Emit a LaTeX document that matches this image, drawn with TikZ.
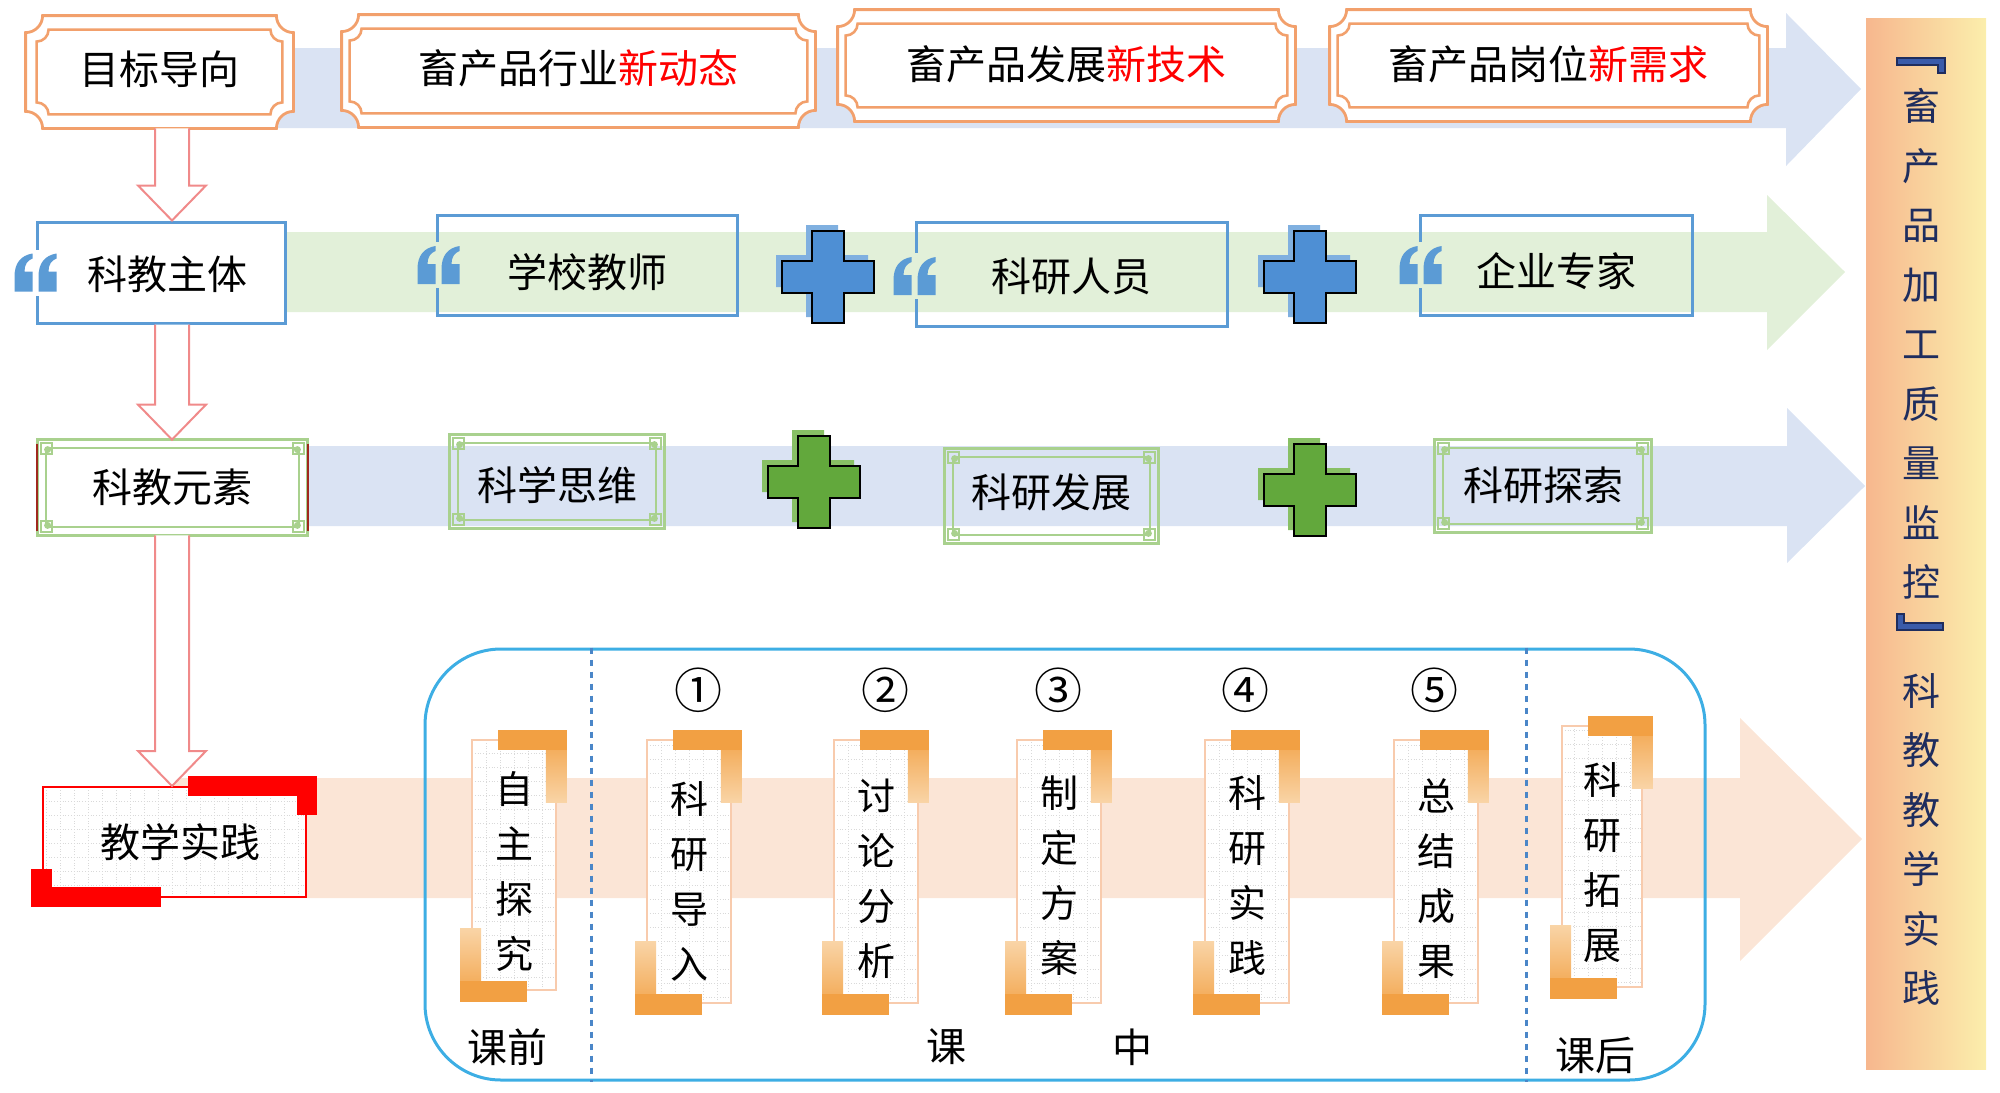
\documentclass[tikz,border=0pt]{standalone}
\usepackage{fontspec}
\setmainfont{Noto Sans CJK SC}
\usetikzlibrary{calc}
\definecolor{bandblue}{HTML}{DAE3F3}
\definecolor{bandgreen}{HTML}{E2F0D9}
\definecolor{bandpeach}{HTML}{FBE5D6}
\definecolor{orline}{HTML}{F2A06C}
\definecolor{cblue}{HTML}{5B9BD5}
\definecolor{gline}{HTML}{A9D18E}
\definecolor{cpink}{HTML}{F08A8A}
\definecolor{ccyan}{HTML}{3DAEE4}
\definecolor{cdash}{HTML}{4A86C8}
\definecolor{cpeach}{HTML}{F8CBAD}
\definecolor{Lor}{HTML}{F2A043}
\definecolor{Llt}{HTML}{F9D4A6}
\definecolor{barL}{HTML}{F7B78E}
\definecolor{barR}{HTML}{FBEEAC}
\definecolor{navy}{HTML}{1F2D5E}
\definecolor{brfill}{HTML}{3A5BAA}
\definecolor{plusblue}{HTML}{4E8FD4}
\definecolor{plusblueS}{HTML}{80B0E0}
\definecolor{plusgreen}{HTML}{62A83C}
\definecolor{plusgreenS}{HTML}{88C065}
\definecolor{gridc}{HTML}{D9D9D9}
\definecolor{redbar}{HTML}{FF0000}
\definecolor{darkr}{HTML}{A0281E}
\pgfdeclarelayer{back}
\pgfdeclarelayer{mid}
\pgfsetlayers{back,mid,main}
% move text down by #1 without changing its box
\newcommand\dn[2]{\raisebox{-#1}[\height][\depth]{#2}}
% concave-corner frame: [style]{node}{dx}{dy}{r}
\newcommand\cvframe[5][]{%
  \draw[#1] ([shift={(#3+#5,-#4)}]#2.north west) -- ([shift={(-#3-#5,-#4)}]#2.north east)
    arc[start angle=180,end angle=270,radius=#5] -- ([shift={(-#3,#4+#5)}]#2.south east)
    arc[start angle=90,end angle=180,radius=#5] -- ([shift={(#3+#5,#4)}]#2.south west)
    arc[start angle=0,end angle=90,radius=#5] -- ([shift={(#3,-#4-#5)}]#2.north west)
    arc[start angle=270,end angle=360,radius=#5] -- cycle;}
% green ornamental frame: {node}{fill}
\newcommand\gframe[2]{%
  \draw[gline, line width=1.6pt, fill=#2] (#1.north west) rectangle (#1.south east);
  \draw[gline, line width=1pt] ([shift={(8,-8)}]#1.north west) rectangle ([shift={(-8,8)}]#1.south east);
  \draw[gline, line width=1pt] ([shift={(3,-3)}]#1.north west) rectangle ([shift={(14,-14)}]#1.north west);
  \draw[gline, line width=1pt] ([shift={(-3,-3)}]#1.north east) rectangle ([shift={(-14,-14)}]#1.north east);
  \draw[gline, line width=1pt] ([shift={(3,3)}]#1.south west) rectangle ([shift={(14,14)}]#1.south west);
  \draw[gline, line width=1pt] ([shift={(-3,3)}]#1.south east) rectangle ([shift={(-14,14)}]#1.south east);
  \fill[gline] ([shift={(10,-10)}]#1.north west) circle[radius=3.5];
  \fill[gline] ([shift={(-10,-10)}]#1.north east) circle[radius=3.5];
  \fill[gline] ([shift={(10,10)}]#1.south west) circle[radius=3.5];
  \fill[gline] ([shift={(-10,10)}]#1.south east) circle[radius=3.5];}
% orange L brackets of a vertical step box
\newcommand\oL[1]{%
  \shade[top color=Lor, bottom color=Llt] ([shift={(-11,9)}]#1.north east) rectangle ([shift={(10,-63)}]#1.north east);
  \fill[Lor] ([shift={(27,9)}]#1.north west) rectangle ([shift={(10,-11)}]#1.north east);
  \shade[top color=Llt, bottom color=Lor] ([shift={(-11,62)}]#1.south west) rectangle ([shift={(10,-11)}]#1.south west);
  \fill[Lor] ([shift={(-11,10)}]#1.south west) rectangle ([shift={(56,-11)}]#1.south west);}
% hollow down arrow from node to node
\newcommand\hdown[2]{%
  \draw[harrow] let \p1=(ax |- #1.south), \p2=(ax |- #2.north) in
    (\x1-8.5pt,\y1) -- (\x1-8.5pt,\y2+17.5pt) -- (\x1-17pt,\y2+17.5pt) -- (\x1,\y2)
    -- (\x1+17pt,\y2+17.5pt) -- (\x1+8.5pt,\y2+17.5pt) -- (\x1+8.5pt,\y1);}
\begin{document}
\begin{tikzpicture}[x=0.5pt,y=0.5pt,
  base/.style={inner sep=0pt, align=center, font=\fontsize{20pt}{24pt}\selectfont},
  obox/.style={base},
  bbox/.style={base, draw=cblue, line width=1.5pt},
  gbox/.style={base},
  gridpic/.style={path picture={\draw[gridc, densely dotted, line width=0.4pt, step=7pt]
      (path picture bounding box.south west) grid (path picture bounding box.north east);}},
  vstep/.style={inner sep=0pt, draw=cpeach, line width=0.8pt, fill=white, minimum width=42pt, gridpic},
  vtxt/.style={inner sep=0pt, align=center, font=\fontsize{19pt}{27.5pt}\selectfont},
  bartext/.style={inner sep=0pt, align=center, text=navy, font=\fontsize{19pt}{29.75pt}\selectfont},
  harrow/.style={draw=cpink, line width=1pt, fill=white},
  num/.style={inner sep=0pt, font=\fontsize{24pt}{28pt}\selectfont},
  lab/.style={inner sep=0pt, font=\fontsize{20pt}{24pt}\selectfont},
  brk/.style={fill=brfill, draw=navy, line width=0.8pt},
  pics/qmark/.style={code={
    \fill[#1] (-21,-23) rectangle (21,23);
    \fill[cblue] (-21,-19) -- (-3,-19) -- (-3,1) -- (-11,1) .. controls (-11,8) and (-8,12) .. (-3,14)
      -- (-3,19) .. controls (-15,17) and (-21,9) .. (-21,-4) -- cycle;
    \fill[cblue] (3,-19) -- (21,-19) -- (21,1) -- (13,1) .. controls (13,8) and (16,12) .. (21,14)
      -- (21,19) .. controls (9,17) and (3,9) .. (3,-4) -- cycle;}},
  pics/plus/.style 2 args={code={
    \fill[#2, shift={(-6,6)}] (-16,46) -- (16,46) -- (16,16) -- (46,16) -- (46,-16) -- (16,-16)
      -- (16,-46) -- (-16,-46) -- (-16,-16) -- (-46,-16) -- (-46,16) -- (-16,16) -- cycle;
    \filldraw[fill=#1, draw=black, line width=1.3pt] (-16,46) -- (16,46) -- (16,16) -- (46,16)
      -- (46,-16) -- (16,-16) -- (16,-46) -- (-16,-46) -- (-16,-16) -- (-46,-16) -- (-46,16)
      -- (-16,16) -- cycle;}}
]
\useasboundingbox (0,0) rectangle (2000,-1092);
\coordinate (ax) at (172,0);

% ---------- bands ----------
\begin{pgfonlayer}{back}
\fill[bandblue] (200,-48) -- (1786,-48) -- (1786,-13) -- (1861,-89) -- (1786,-166) -- (1786,-128) -- (200,-128) -- cycle;
\fill[bandgreen] (160,-232) -- (1767,-232) -- (1767,-195) -- (1845,-272) -- (1767,-350) -- (1767,-312) -- (160,-312) -- cycle;
\fill[bandblue] (170,-446) -- (1787,-446) -- (1787,-408) -- (1865,-486) -- (1787,-563) -- (1787,-526) -- (170,-526) -- cycle;
\fill[bandpeach] (170,-778) -- (1740,-778) -- (1740,-718) -- (1862,-839) -- (1740,-961) -- (1740,-898) -- (170,-898) -- cycle;
\end{pgfonlayer}

% ---------- row 1 ----------
\node[obox, minimum width=133.5pt, minimum height=56pt] (goal) at (159.5,-72) {\dn{-1.5pt}{目标导向}};
\node[obox, minimum width=236.5pt, minimum height=56pt] (trend) at (578.5,-71) {\dn{-1.5pt}{畜产品行业\textcolor{redbar}{新动态}}};
\node[obox, minimum width=228.5pt, minimum height=55.5pt] (tech) at (1066.5,-65.5) {\dn{-0.5pt}{畜产品发展\textcolor{redbar}{新技术}}};
\node[obox, minimum width=218.5pt, minimum height=55.5pt] (need) at (1548.5,-65.5) {\dn{-0.5pt}{畜产品岗位\textcolor{redbar}{新需求}}};
\begin{pgfonlayer}{mid}
\foreach \n/\dx in {goal/11,trend/8,tech/8,need/8}{
  \cvframe[orline, line width=1.4pt, fill=white]{\n}{0}{0}{17}
  \cvframe[orline, line width=1.3pt]{\n}{\dx}{14}{12}
}
\end{pgfonlayer}

% ---------- row 2 ----------
\node[bbox, fill=white, minimum width=124pt, minimum height=50.5pt] (subj) at (161,-272.5) {\dn{1pt}{\hspace*{6pt}科教主体}};
\node[bbox, minimum width=150pt, minimum height=50pt] (teach) at (587,-265) {\dn{3.5pt}{学校教师}};
\node[bbox, minimum width=155.5pt, minimum height=52pt] (resr) at (1071.5,-274) {\dn{1pt}{科研人员}};
\node[bbox, minimum width=136pt, minimum height=50pt] (expt) at (1556,-265) {\dn{3pt}{企业专家}};
\pic at (subj.west) {qmark=white};
\pic at ([xshift=1.5pt]teach.west) {qmark=bandgreen};
\pic at ([yshift=-1pt]resr.west) {qmark=bandgreen};
\pic at ([xshift=1pt]expt.west) {qmark=bandgreen};
\pic (pa) at (828,-277) {plus={plusblue}{plusblueS}};
\pic (pb) at (1310,-277) {plus={plusblue}{plusblueS}};

% ---------- row 3 ----------
\node[gbox, minimum width=134.5pt, minimum height=47.5pt] (elem) at (172.5,-487.5) {科教元素};
\node[gbox, minimum width=107pt, minimum height=46.5pt] (think) at (557,-481.5) {\dn{2pt}{科学思维}};
\node[gbox, minimum width=106.5pt, minimum height=47pt] (devp) at (1051.5,-496) {\dn{-2pt}{科研发展}};
\node[gbox, minimum width=108pt, minimum height=46pt] (expl) at (1543,-486) {\dn{-0.5pt}{科研探索}};
\begin{pgfonlayer}{mid}
\gframe{elem}{white}
\gframe{think}{none}
\gframe{devp}{none}
\gframe{expl}{none}
\draw[darkr, line width=1pt] ([shift={(-1,-4)}]elem.north west) -- ([shift={(-1,4)}]elem.south west);
\draw[darkr, line width=1pt] ([shift={(1,-4)}]elem.north east) -- ([shift={(1,4)}]elem.south east);
\end{pgfonlayer}
\pic (pc) at (814,-482) {plus={plusgreen}{plusgreenS}};
\pic (pd) at (1310,-490) {plus={plusgreen}{plusgreenS}};

% ---------- row 4 ----------
\node[base, draw=redbar, line width=1pt, fill=white, gridpic, minimum width=131.5pt, minimum height=55pt] (prac) at (174.5,-842) {\hspace*{6pt}教学实践};
\fill[redbar] ([shift={(-119,10)}]prac.north east) rectangle ([shift={(10,-10)}]prac.north east);
\fill[redbar] ([shift={(-10,10)}]prac.north east) rectangle ([shift={(10,-29)}]prac.north east);
\fill[redbar] ([shift={(-11,29)}]prac.south west) rectangle ([shift={(10,-9)}]prac.south west);
\fill[redbar] ([shift={(-11,11)}]prac.south west) rectangle ([shift={(119,-9)}]prac.south west);

% stage frame
\node[draw=ccyan, line width=1.5pt, rounded corners=38pt, minimum width=640pt, minimum height=215.5pt, inner sep=0pt] (stage) at (1065,-864.5) {};
\draw[cdash, dashed, line width=1.2pt] ([xshift=84pt]stage.north west) -- ([xshift=84pt]stage.south west);
\draw[cdash, dashed, line width=1.2pt] ([xshift=551.5pt]stage.north west) -- ([xshift=551.5pt]stage.south west);

\node[vstep, minimum height=125pt] (s0) at (514,-865) {};
\node[vstep, minimum height=131.5pt] (s1) at (689,-871.5) {};
\node[vstep, minimum height=131.5pt] (s2) at (876,-871.5) {};
\node[vstep, minimum height=131.5pt] (s3) at (1059,-871.5) {};
\node[vstep, minimum height=131.5pt] (s4) at (1247,-871.5) {};
\node[vstep, minimum height=131.5pt] (s5) at (1436,-871.5) {};
\node[vstep, minimum width=40pt, minimum height=130.5pt] (s6) at (1602,-856.5) {};
\foreach \s in {s0,s1,s2,s3,s4,s5,s6}{\oL{\s}}
\node[vtxt] (t0) at ([yshift=-3pt]s0.center) {自\\主\\探\\究};
\node[vtxt] (t1) at ([yshift=-5pt]s1.center) {科\\研\\导\\入};
\node[vtxt] (t2) at ([yshift=-3.5pt]s2.center) {讨\\论\\分\\析};
\node[vtxt] (t3) at ([yshift=-2pt]s3.center) {制\\定\\方\\案};
\node[vtxt] (t4) at ([yshift=-2pt]s4.center) {科\\研\\实\\践};
\node[vtxt] (t5) at ([yshift=-3.5pt]s5.center) {总\\结\\成\\果};
\node[vtxt] (t6) at ([yshift=-3pt]s6.center) {科\\研\\拓\\展};

\node[num] (n1) at (698,-690) {①};
\node[num] (n2) at (885,-690) {②};
\node[num] (n3) at (1058,-690) {③};
\node[num] (n4) at (1245,-690) {④};
\node[num] (n5) at (1434,-690) {⑤};

\node[lab] (pre) at (507,-1047) {课前};
\node[lab] (ke) at (946,-1047) {课};
\node[lab] (zhong) at (1132,-1047) {中};
\node[lab] (post) at (1595,-1055) {课后};

% ---------- down arrows ----------
\hdown{goal}{subj}
\hdown{subj}{elem}
\hdown{elem}{prac}

% ---------- right bar ----------
\node[inner sep=0pt, minimum width=60pt, minimum height=525.5pt, left color=barL, right color=barR] (bar) at (1926,-543.5) {};
\filldraw[brk] (1897,-58) -- (1945,-58) -- (1945,-73) -- (1938,-73) -- (1938,-65) -- (1897,-65) -- cycle;
\node[bartext] (bartop) at (1921,-344) {畜\\产\\品\\加\\工\\质\\量\\监\\控};
\filldraw[brk] (1897,-614) -- (1904,-614) -- (1904,-623) -- (1943,-623) -- (1943,-630) -- (1897,-630) -- cycle;
\node[bartext] (barbot) at (1921,-839.5) {科\\教\\教\\学\\实\\践};
\end{tikzpicture}
\end{document}
